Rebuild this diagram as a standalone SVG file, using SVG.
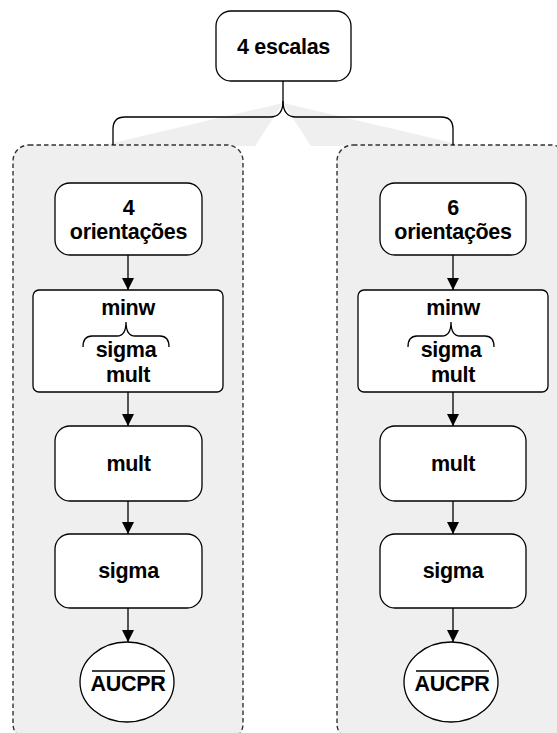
<svg xmlns="http://www.w3.org/2000/svg" width="557" height="733" viewBox="0 0 557 733">
<defs>
<style>
.grp{fill:#efefef;stroke:#333;stroke-width:1.4;stroke-dasharray:4.5,3}
.shade{fill:#efefef;stroke:none}
.node{fill:#fff;stroke:#000;stroke-width:1.3}
.lbl{font-family:"Liberation Sans",Arial,Helvetica,sans-serif;font-weight:bold;font-size:21.5px;fill:#000;text-anchor:middle;letter-spacing:-0.3px}
.edge{fill:none;stroke:#000;stroke-width:1.3}
</style>
<marker id="arr" markerUnits="userSpaceOnUse" markerWidth="12" markerHeight="12" refX="12" refY="6" orient="auto">
<path d="M0,0 L12,6 L0,12 z" fill="#000"/>
</marker>
</defs>
<rect width="557" height="733" fill="#fff"/>
<polygon class="shade" points="283,103 100,146 255,146"/>
<polygon class="shade" points="283,103 466,146 311,146"/>
<g id="group-left"><rect class="grp" x="13" y="145" width="230" height="595" rx="16"/></g>
<g id="group-right"><rect class="grp" x="337" y="145" width="230" height="595" rx="16"/></g>
<g id="connectors">
<path class="edge" d="M283,81 V101 Q283,117 270,117 H125 Q113,117 113,129 V145"/>
<path class="edge" d="M283,101 Q283,117 296,117 H441 Q453,117 453,129 V145"/>
<line class="edge" x1="128" y1="255" x2="128" y2="290" marker-end="url(#arr)"/>
<line class="edge" x1="128" y1="392" x2="128" y2="426" marker-end="url(#arr)"/>
<line class="edge" x1="128" y1="501" x2="128" y2="534" marker-end="url(#arr)"/>
<line class="edge" x1="128" y1="608" x2="128" y2="642" marker-end="url(#arr)"/>
<line class="edge" x1="453" y1="255" x2="453" y2="290" marker-end="url(#arr)"/>
<line class="edge" x1="453" y1="392" x2="453" y2="426" marker-end="url(#arr)"/>
<line class="edge" x1="453" y1="501" x2="453" y2="534" marker-end="url(#arr)"/>
<line class="edge" x1="453" y1="608" x2="453" y2="642" marker-end="url(#arr)"/>
</g>
<g id="n-escalas">
<rect class="node" x="216" y="11" width="135" height="70" rx="15"/>
<text class="lbl" x="283.5" y="54">4 escalas</text>
</g>
<g id="n-orient4">
<rect class="node" x="55" y="183" width="147" height="72" rx="15"/>
<text class="lbl" x="128.5" y="215">4</text>
<text class="lbl" x="128.5" y="239">orientações</text>
</g>
<g id="n-minw-left">
<rect class="node" x="33" y="290" width="190" height="102" rx="6"/>
<text class="lbl" x="128" y="315">minw</text>
<path class="edge" d="M83,347 Q83,336 92,336 H117 Q126,336 126,322 Q126,336 135,336 H160 Q169,336 169,347"/>
<text class="lbl" x="126" y="357">sigma</text>
<text class="lbl" x="128" y="382">mult</text>
</g>
<g id="n-mult-left">
<rect class="node" x="55" y="426" width="147" height="75" rx="15"/>
<text class="lbl" x="128.5" y="471">mult</text>
</g>
<g id="n-sigma-left">
<rect class="node" x="55" y="534" width="147" height="74" rx="15"/>
<text class="lbl" x="128.5" y="578">sigma</text>
</g>
<g id="n-aucpr-left">
<ellipse class="node" cx="127" cy="682" rx="47" ry="40"/>
<text class="lbl" x="128" y="691">AUCPR</text>
<line x1="92" y1="671" x2="165" y2="671" stroke="#000" stroke-width="1.5"/>
</g>
<g id="n-orient6">
<rect class="node" x="380" y="183" width="146" height="72" rx="15"/>
<text class="lbl" x="453" y="215">6</text>
<text class="lbl" x="453" y="239">orientações</text>
</g>
<g id="n-minw-right">
<rect class="node" x="358" y="290" width="190" height="102" rx="6"/>
<text class="lbl" x="453" y="315">minw</text>
<path class="edge" d="M408,347 Q408,336 417,336 H442 Q451,336 451,322 Q451,336 460,336 H485 Q494,336 494,347"/>
<text class="lbl" x="451" y="357">sigma</text>
<text class="lbl" x="453" y="382">mult</text>
</g>
<g id="n-mult-right">
<rect class="node" x="380" y="426" width="146" height="75" rx="15"/>
<text class="lbl" x="453" y="471">mult</text>
</g>
<g id="n-sigma-right">
<rect class="node" x="380" y="534" width="146" height="74" rx="15"/>
<text class="lbl" x="453" y="578">sigma</text>
</g>
<g id="n-aucpr-right">
<ellipse class="node" cx="451" cy="682" rx="47" ry="40"/>
<text class="lbl" x="452" y="691">AUCPR</text>
<line x1="416" y1="671" x2="489" y2="671" stroke="#000" stroke-width="1.5"/>
</g>
</svg>
